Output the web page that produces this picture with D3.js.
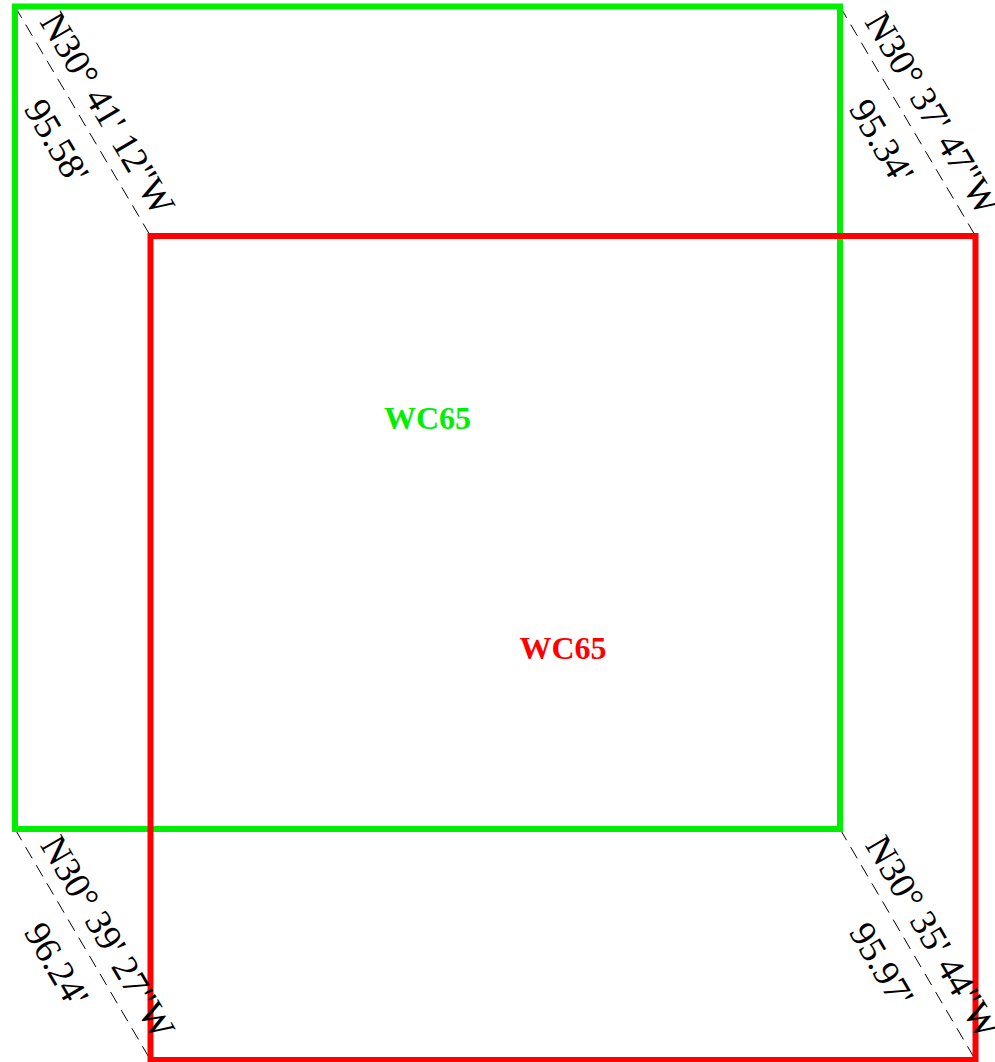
<!DOCTYPE html>
<html>
<head>
<meta charset="utf-8">
<script src="https://cdn.jsdelivr.net/npm/d3@7"></script>
<style>
  html, body { margin: 0; padding: 0; background: #fff; }
  svg { display: block; }
</style>
</head>
<body>
<svg id="chart" width="995" height="1062"></svg>
<script>
// ---- data ----
const boxNames = ["WC65", "WC65"];
const boxX0 = [0, 135.5];
const boxY0 = [0, 229.5];
const boxW = [825, 825];
const boxH = [822.5, 824];
// corner order: top-left, top-right, bottom-left, bottom-right
const cornerCoords = ["N30\u00B0 41' 12\"W", "N30\u00B0 37' 47\"W", "N30\u00B0 39' 27\"W", "N30\u00B0 35' 44\"W"];
const cornerDists = ["95.58'", "95.34'", "96.24'", "95.97'"];

// ---- styles ----
const boxColors = ["#00ee00", "#ff0000"];
const serif = "'Liberation Serif', 'Times New Roman', Times, serif";

const svg = d3.select("#chart");
const x = d3.scaleLinear().domain([0, 960.5]).range([15, 975.5]);
const y = d3.scaleLinear().domain([0, 1053.5]).range([6.5, 1060]);

const boxes = boxNames.map((n, i) => ({
  name: n, color: boxColors[i],
  x0: boxX0[i], y0: boxY0[i], x1: boxX0[i] + boxW[i], y1: boxY0[i] + boxH[i]
}));

function corners(b) {
  return [[b.x0, b.y0], [b.x1, b.y0], [b.x0, b.y1], [b.x1, b.y1]];
}
const c0 = corners(boxes[0]), c1 = corners(boxes[1]);
const links = cornerCoords.map((c, i) => ({
  coord: c, dist: cornerDists[i],
  x1: x(c0[i][0]), y1: y(c0[i][1]), x2: x(c1[i][0]), y2: y(c1[i][1])
}));

// dashed connectors
svg.append("g").selectAll("line").data(links).join("line")
  .attr("x1", d => d.x1).attr("y1", d => d.y1)
  .attr("x2", d => d.x2).attr("y2", d => d.y2)
  .attr("stroke", "#000").attr("stroke-width", 1)
  .attr("stroke-dasharray", "13,8");

// boxes
svg.append("g").selectAll("rect").data(boxes).join("rect")
  .attr("x", d => x(d.x0)).attr("y", d => y(d.y0))
  .attr("width", d => x(d.x1) - x(d.x0)).attr("height", d => y(d.y1) - y(d.y0))
  .attr("fill", "none").attr("stroke", d => d.color).attr("stroke-width", 6);

// box labels
svg.append("g").selectAll("text").data(boxes).join("text")
  .attr("x", d => (x(d.x0) + x(d.x1)) / 2)
  .attr("y", d => (y(d.y0) + y(d.y1)) / 2)
  .attr("dy", "0.35em")
  .attr("text-anchor", "middle")
  .attr("font-family", serif)
  .attr("font-weight", "bold").attr("font-size", 32)
  .attr("fill", d => d.color)
  .text(d => d.name);

// corner labels along connectors
const lg = svg.append("g").selectAll("g").data(links).join("g")
  .attr("transform", d => {
    const mx = (d.x1 + d.x2) / 2, my = (d.y1 + d.y2) / 2;
    const a = Math.atan2(d.y2 - d.y1, d.x2 - d.x1) * 180 / Math.PI;
    return `translate(${mx},${my}) rotate(${a})`;
  });
lg.append("text")
  .attr("x", 6).attr("y", -13)
  .attr("text-anchor", "middle")
  .attr("font-family", serif)
  .attr("font-size", 37).attr("fill", "#000")
  .text(d => d.coord);
lg.append("text")
  .attr("x", 4).attr("y", 45)
  .attr("text-anchor", "middle")
  .attr("font-family", serif)
  .attr("font-size", 37).attr("fill", "#000")
  .text(d => d.dist);
</script>
</body>
</html>
